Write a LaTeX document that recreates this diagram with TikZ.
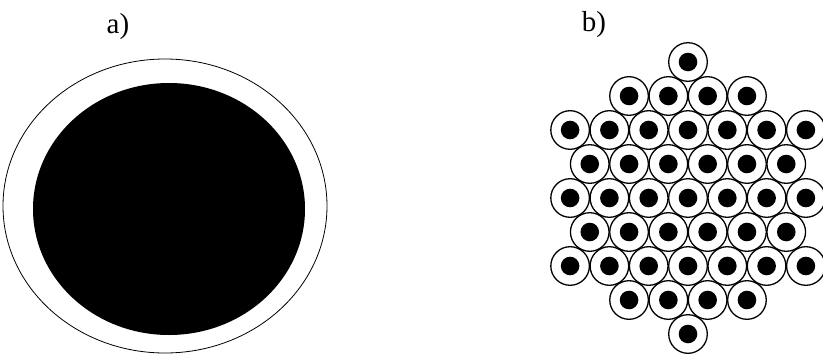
\documentclass[tikz,border=0pt]{standalone}
\usepackage{fontspec}
\setmainfont{Liberation Serif}
\usepackage{tikz}
\newcommand{\labfont}{\fontsize{29}{33}\selectfont}
\tikzset{
  wire/.style={draw=black,line width=1.3pt,fill=white},
  core/.style={fill=black},
  partlabel/.style={inner sep=0pt}
}

\begin{document}
\begin{tikzpicture}[x=1pt,y=-1pt]
  \useasboundingbox (0,0) rectangle (823,354);
  % a) single thick fibre
  \node[partlabel] (taga) at (118,27) {\labfont a)};
  \draw[line width=0.8pt] (165,206) ellipse (162pt and 147pt);
  \fill[core] (169,209) ellipse (136pt and 126pt);
  % b) hexagonal bundle
  \node[partlabel] (tagb) at (594,25) {\labfont b)};
  \foreach \k/\n in {4/1,3/4,2/7,1/6,0/7,-1/6,-2/7,-3/4,-4/1} {
    \foreach \i in {1,...,\n} {
      \pgfmathsetmacro{\cx}{688+(\i-(\n+1)/2)*39.3}
      \pgfmathsetmacro{\cy}{198-\k*34}
      \draw[wire] (\cx,\cy) circle (19.3pt);
      \fill[core] (\cx,\cy) circle (9.3pt);
    }
  }
\end{tikzpicture}
\end{document}
